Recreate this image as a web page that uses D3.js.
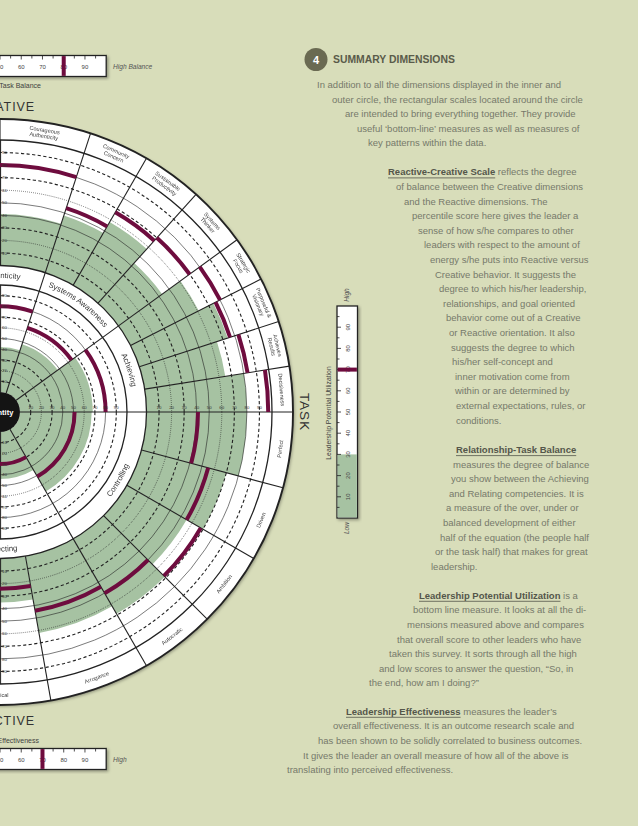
<!DOCTYPE html>
<html><head><meta charset="utf-8">
<script src="https://cdn.jsdelivr.net/npm/d3@7"></script>
<style>
html,body{margin:0;padding:0;background:#d8ddba;}
svg{display:block;}
text{font-family:"Liberation Sans", Arial, Helvetica, sans-serif;}
textPath{fill:#333;}
.arcLabel{opacity:0.99;}
</style></head><body>
<svg id="c" width="638" height="826"></svg>
<script>
// ---------------- DATA ----------------
const innerNames = ["Authenticity","Systems Awareness","Achieving","Controlling","Protecting"];
const innerHalf = ["creative","creative","creative","reactive","reactive"];
const innerSlot = [2,3,4,0,1];
const innerDimCount = [2,3,4,4,3];
const innerOthers = [42,48,68,67,44];
const innerSelf = [80,64,80,51,30];

const outerNames = ["Courageous Authenticity","Community Concern","Sustainable Productivity","Systems Thinker",
  "Strategic Focus","Purposeful & Visionary","Achieves Results","Decisiveness",
  "Perfect","Driven","Ambition","Autocratic","Arrogance","Critical"];
const outerGroup = [0,1,1,1,2,2,2,2,3,3,3,3,4,4];
const outerIndex = [1,0,1,2,0,1,2,3,0,1,2,3,0,1];
const outerOthers = [41,48,58,43,61,74,65,80,80,70,55,69,62,35];
const outerSelf   = [80,54,67,70,80,76,83,97,41,55,68,50,44,24];

const scaleTicks = [10,20,30,40,50,60,70,80,90];
const tickStyle = ["dash","dot","dash","solid","solid","dot","dash","solid","dash"];

const balanceScore = 80;
const effectivenessScore = 70;
const lpuScore = 70;
const lpuShade = 30;
const summaryTicks = [5,10,15,20,25,30,35,40,45,50,55,60,65,70,75,80,85,90,95];
const summaryLabels = [10,20,30,40,50,60,70,80,90];

const introLines = [
 "In addition to all the dimensions displayed in the inner and",
 "outer circle, the rectangular scales located around the circle",
 "are intended to bring everything together. They provide",
 "useful \u2018bottom-line\u2019 measures as well as measures of",
 "key patterns within the data."];
const p1Head = "Reactive-Creative Scale", p1Rest = " reflects the degree";
const p1Lines = ["of balance between the Creative dimensions","and the Reactive dimensions. The",
 "percentile score here gives the leader a","sense of how s/he compares to other",
 "leaders with respect to the amount of","energy s/he puts into Reactive versus",
 "Creative behavior. It suggests the","degree to which his/her leadership,",
 "relationships, and goal oriented","behavior come out of a Creative",
 "or Reactive orientation. It also","suggests the degree to which",
 "his/her self-concept and","inner motivation come from","within or are determined by",
 "external expectations, rules, or","conditions."];
const p2Head = "Relationship-Task Balance", p2Rest = "";
const p2Lines = ["measures the degree of balance","you show between the Achieving",
 "and Relating competencies. It is","a measure of the over, under or",
 "balanced development of either","half of the equation (the people half",
 "or the task half) that makes for great","leadership."];
const p3Head = "Leadership Potential Utilization", p3Rest = " is a";
const p3Lines = ["bottom line measure. It looks at all the di-","mensions measured above and compares",
 "that overall score to other leaders who have","taken this survey. It sorts through all the high",
 "and low scores to answer the question, \u201cSo, in","the end, how am I doing?\u201d"];
const p4Head = "Leadership Effectiveness", p4Rest = " measures the leader\u2019s";
const p4Lines = ["overall effectiveness. It is an outcome research scale and",
 "has been shown to be solidly correlated to business outcomes.",
 "It gives the leader an overall measure of how all of the above is",
 "translating into perceived effectiveness."];

// ---------------- LAYOUT ----------------
const introX = [317,332,345,357,368];
const p1X = [388,396,404,412,418,424,430,435,439,443,446,449,451,452,455,455,456,456];
const p2X = [456,453,451,449,446,443,440,435,431];
const p3X = [419,413,407,397,389,379,369];
const p4X = [346,333,318,303,287];

const GREEN = "#a6c2a2", MAG = "#6e0c3e", INK = "#222";
const svg = d3.select("#c");
const defs = svg.append("defs");
const f = defs.append("filter").attr("id","sh").attr("x","-20%").attr("y","-20%").attr("width","140%").attr("height","140%");
f.append("feDropShadow").attr("dx",1.5).attr("dy",1.5).attr("stdDeviation",1.4).attr("flood-color","#000").attr("flood-opacity",0.35);

const cx = 0, cy = 412, deg = Math.PI/180;
const rIn = d3.scaleLinear().domain([0,100]).range([20,127]);
const rOut = d3.scaleLinear().domain([0,100]).range([146.5,272]);
const R_EDGE = 293, R_CORE = 20;

const halfSlots = {creative:5, reactive:3};
const gW = i => 180/halfSlots[innerHalf[i]];
const innerA0 = innerNames.map((_,i)=> (innerHalf[i]==="creative" ? -90 : 90) + gW(i)*innerSlot[i]);
const innerA1 = innerA0.map((a,i)=> a + gW(i));
const outerA0 = outerNames.map((_,j)=>{const g=outerGroup[j]; return innerA0[g] + gW(g)/innerDimCount[g]*outerIndex[j];});
const outerA1 = outerA0.map((a,j)=> a + gW(outerGroup[j])/innerDimCount[outerGroup[j]]);
const P = (a,r)=>[r*Math.sin(a*deg), -r*Math.cos(a*deg)];

const g = svg.append("g").attr("transform",`translate(${cx},${cy})`);
g.append("circle").attr("r",R_EDGE).attr("fill","#fff").attr("filter","url(#sh)");

const arc = d3.arc();
// green fills
g.selectAll(".go").data(outerNames).join("path")
 .attr("d",(d,j)=>arc({innerRadius:rOut(0),outerRadius:rOut(outerOthers[j]),startAngle:outerA0[j]*deg,endAngle:outerA1[j]*deg}))
 .attr("fill",GREEN);
g.selectAll(".gi").data(innerNames).join("path")
 .attr("d",(d,i)=>arc({innerRadius:rIn(0),outerRadius:rIn(innerOthers[i]),startAngle:innerA0[i]*deg,endAngle:innerA1[i]*deg}))
 .attr("fill",GREEN);

// grid circles
const styleOf = {dash:{w:1.1,da:"3.2,2.4"},dot:{w:0.8,da:"0.7,1.3"},solid:{w:0.6,da:null}};
[rIn,rOut].forEach(s=>{
  g.selectAll(null).data(scaleTicks).join("circle")
   .attr("r",d=>s(d)).attr("fill","none").attr("stroke",INK)
   .attr("stroke-width",(d,k)=>styleOf[tickStyle[k]].w)
   .attr("stroke-dasharray",(d,k)=>styleOf[tickStyle[k]].da);
});

// radial boundaries
const innerB = Array.from(new Set(innerA0.concat(innerA1)));
innerB.forEach(a=>{const p0=P(a,R_CORE),p1=P(a,rOut(0));
  g.append("line").attr("x1",p0[0]).attr("y1",p0[1]).attr("x2",p1[0]).attr("y2",p1[1]).attr("stroke",INK).attr("stroke-width",1.1);});
const outerB = Array.from(new Set(outerA0.concat(outerA1)));
outerB.forEach(a=>{const p0=P(a,rOut(0)),p1=P(a,R_EDGE);
  g.append("line").attr("x1",p0[0]).attr("y1",p0[1]).attr("x2",p1[0]).attr("y2",p1[1]).attr("stroke",INK).attr("stroke-width",1.1);});
// vertical axis in scales
[[rIn(0),rIn(100)],[rOut(0),rOut(100)]].forEach(([a,b])=>{
  g.append("line").attr("x1",0.6).attr("x2",0.6).attr("y1",-b).attr("y2",-a).attr("stroke",INK).attr("stroke-width",1);
  g.append("line").attr("x1",0.6).attr("x2",0.6).attr("y1",a).attr("y2",b).attr("stroke",INK).attr("stroke-width",1);
});

// rings
[[rIn(100),1.3],[rOut(0),1.3],[rOut(100),1.3],[R_EDGE,1.9]].forEach(([r,w])=>
  g.append("circle").attr("r",r).attr("fill","none").attr("stroke",INK).attr("stroke-width",w));

// self marks
g.selectAll(".mo").data(outerNames).join("path")
 .attr("d",(d,j)=>arc({innerRadius:rOut(outerSelf[j])-2,outerRadius:rOut(outerSelf[j])+2,startAngle:outerA0[j]*deg,endAngle:outerA1[j]*deg}))
 .attr("fill",MAG);
g.selectAll(".mi").data(innerNames).join("path")
 .attr("d",(d,i)=>arc({innerRadius:rIn(innerSelf[i])-2,outerRadius:rIn(innerSelf[i])+2,startAngle:innerA0[i]*deg,endAngle:innerA1[i]*deg}))
 .attr("fill",MAG);

// scale tick labels
[rIn,rOut].forEach(s=>{
  scaleTicks.forEach(v=>{
    g.append("text").attr("x",s(v)).attr("y",-2.6).attr("text-anchor","middle").attr("font-size",4.4).attr("fill","#333").text(v);
    g.append("text").attr("x",2).attr("y",-s(v)+1.6).attr("font-size",4.4).attr("fill","#333").text(v);
    g.append("text").attr("x",2).attr("y",s(v)+1.6).attr("font-size",4.4).attr("fill","#333").text(v);
  });
});

// outer labels
const splitName = n => { const k=n.lastIndexOf(" "); return k<0 ? [n] : [n.slice(0,k), n.slice(k+1)]; };
outerNames.forEach((name,j)=>{
  const a=(outerA0[j]+outerA1[j])/2, bottom = a>90 && a<270;
  const lines = splitName(name);
  const t = g.append("text").attr("class","arcLabel").attr("transform",`rotate(${a}) translate(0,${-(rOut(100)+R_EDGE)/2})${bottom?" rotate(180)":""}`)
    .attr("text-anchor","middle").attr("font-size",5.6).attr("fill","#3a3a3a");
  lines.forEach((l,i)=> t.append("tspan").attr("x",0).attr("y",(i-(lines.length-1)/2)*6.1+2).text(l));
});

// inner labels on arcs
innerNames.forEach((name,i)=>{
  const a0=innerA0[i], a1=innerA1[i], mid=(a0+a1)/2, bottom = mid>90 && mid<270;
  let d;
  if(!bottom){ const r=134; const p0=P(a0,r),p1=P(a1,r); d=`M${p0[0]},${p0[1]} A${r},${r} 0 0 1 ${p1[0]},${p1[1]}`; }
  else { const r=139.5; const p0=P(a1,r),p1=P(a0,r); d=`M${p0[0]},${p0[1]} A${r},${r} 0 0 0 ${p1[0]},${p1[1]}`; }
  defs.append("path").attr("id","ip"+i).attr("d",d).attr("fill","none");
  g.append("text").attr("class","arcLabel").attr("font-size",7.8).attr("fill","#333")
   .append("textPath").attr("href","#ip"+i).attr("startOffset","50%").attr("text-anchor","middle")
   .attr("fill","#333").text(name);
});

// core
g.append("circle").attr("r",R_CORE).attr("fill","#141414");
g.append("text").attr("x",0).attr("y",2.7).attr("text-anchor","middle").attr("font-size",7.5).attr("font-weight","bold").attr("fill","#fff").text("Identity");

// ---------------- SUMMARY SCALES ----------------
function hScale(y0, score, hiLabel){
  const x = d3.scaleLinear().domain([0,100]).range([-106.2,106.2]);
  const h=21;
  svg.append("rect").attr("x",x(0)).attr("y",y0).attr("width",x(100)-x(0)).attr("height",h)
    .attr("fill","#fff").attr("stroke",INK).attr("stroke-width",1.3).attr("filter","url(#sh)");
  summaryTicks.forEach(v=> svg.append("line").attr("x1",x(v)).attr("x2",x(v)).attr("y1",y0).attr("y2",y0+(v%10===0?4:3))
    .attr("stroke",INK).attr("stroke-width",0.8));
  summaryLabels.forEach(v=> svg.append("text").attr("x",x(v)).attr("y",y0+13).attr("text-anchor","middle")
    .attr("font-size",6).attr("fill","#444").text(v));
  svg.append("rect").attr("x",x(score)-2).attr("y",y0+0.6).attr("width",4).attr("height",h-1.2).attr("fill",MAG);
  svg.append("text").attr("x",113).attr("y",y0+13.5).attr("font-size",6.6).attr("font-style","italic").attr("fill","#555").text(hiLabel);
}
hScale(55.5, balanceScore, "High Balance");
hScale(748.5, effectivenessScore, "High");
svg.append("text").attr("x",41).attr("y",87.5).attr("text-anchor","end").attr("font-size",7).attr("fill","#3f3f3f").text("Relationship-Task Balance");
svg.append("text").attr("x",39).attr("y",743).attr("text-anchor","end").attr("font-size",7).attr("fill","#3f3f3f").text("Leadership Effectiveness");
svg.append("text").attr("x",35).attr("y",111).attr("text-anchor","end").attr("font-size",12.5).attr("letter-spacing",0.9).attr("fill","#333").text("CREATIVE");
svg.append("text").attr("x",35).attr("y",725).attr("text-anchor","end").attr("font-size",12.5).attr("letter-spacing",0.9).attr("fill","#333").text("REACTIVE");

// vertical LPU
(function(){
  const y = d3.scaleLinear().domain([0,100]).range([518,306]);
  const x0=337, w=20.5;
  svg.append("rect").attr("x",x0).attr("y",y(100)).attr("width",w).attr("height",y(0)-y(100))
    .attr("fill","#fff").attr("stroke",INK).attr("stroke-width",1.3).attr("filter","url(#sh)");
  svg.append("rect").attr("x",x0+0.6).attr("y",y(lpuShade)).attr("width",w-1.2).attr("height",y(0)-y(lpuShade)-0.6).attr("fill",GREEN);
  summaryTicks.forEach(v=> svg.append("line").attr("x1",x0).attr("x2",x0+(v%10===0?4:2.5)).attr("y1",y(v)).attr("y2",y(v))
    .attr("stroke",INK).attr("stroke-width",0.8));
  summaryLabels.forEach(v=> svg.append("text").attr("transform",`translate(${x0+12.5},${y(v)}) rotate(-90)`)
    .attr("text-anchor","middle").attr("font-size",6).attr("fill","#444").text(v));
  svg.append("rect").attr("x",x0+0.6).attr("y",y(lpuScore)-2).attr("width",w-1.2).attr("height",4).attr("fill",MAG);
  svg.append("text").attr("transform",`translate(${x0+12},295) rotate(-90)`).attr("text-anchor","middle").attr("font-size",6.6).attr("font-style","italic").attr("fill","#555").text("High");
  svg.append("text").attr("transform",`translate(${x0+12},528) rotate(-90)`).attr("text-anchor","middle").attr("font-size",6.6).attr("font-style","italic").attr("fill","#555").text("Low");
  svg.append("text").attr("transform",`translate(330.5,413) rotate(-90)`).attr("text-anchor","middle").attr("font-size",6.8).attr("fill","#3f3f3f").text("Leadership Potential Utilization");
  svg.append("text").attr("transform",`translate(300,412) rotate(90)`).attr("text-anchor","middle").attr("font-size",13.5).attr("letter-spacing",1).attr("fill","#333").text("TASK");
})();

// ---------------- TEXT COLUMN ----------------
svg.append("circle").attr("cx",316).attr("cy",59.5).attr("r",11.5).attr("fill","#6a6a52");
svg.append("text").attr("x",316).attr("y",63.5).attr("text-anchor","middle").attr("font-size",11).attr("font-weight","bold").attr("fill","#fff").text("4");
svg.append("text").attr("x",333).attr("y",63.2).attr("font-size",10.4).attr("font-weight","bold").attr("fill","#5a5b4a").text("SUMMARY DIMENSIONS");

const BODY = "#76796a", HEAD = "#54564a", FS = 9.5, LH = 14.6;
introLines.forEach((l,i)=> svg.append("text").attr("x",introX[i]).attr("y",88+i*LH).attr("font-size",FS).attr("fill",BODY).text(l));

function para(head, rest, lines, xs, y0){
  const t = svg.append("text").attr("x",xs[0]).attr("y",y0).attr("font-size",FS).attr("fill",BODY);
  const hs = t.append("tspan").attr("font-weight","bold").attr("fill",HEAD).text(head);
  if(rest) t.append("tspan").text(rest);
  const w = hs.node().getComputedTextLength();
  svg.append("line").attr("x1",xs[0]).attr("x2",xs[0]+w).attr("y1",y0+2.6).attr("y2",y0+2.6).attr("stroke",HEAD).attr("stroke-width",0.8);
  lines.forEach((l,i)=> svg.append("text").attr("x",xs[i+1]).attr("y",y0+(i+1)*LH).attr("font-size",FS).attr("fill",BODY).text(l));
}
para(p1Head,p1Rest,p1Lines,p1X,175.3);
para(p2Head,p2Rest,p2Lines,p2X,453);
para(p3Head,p3Rest,p3Lines,p3X,598.7);
para(p4Head,p4Rest,p4Lines,p4X,714.7);
</script>
</body></html>
